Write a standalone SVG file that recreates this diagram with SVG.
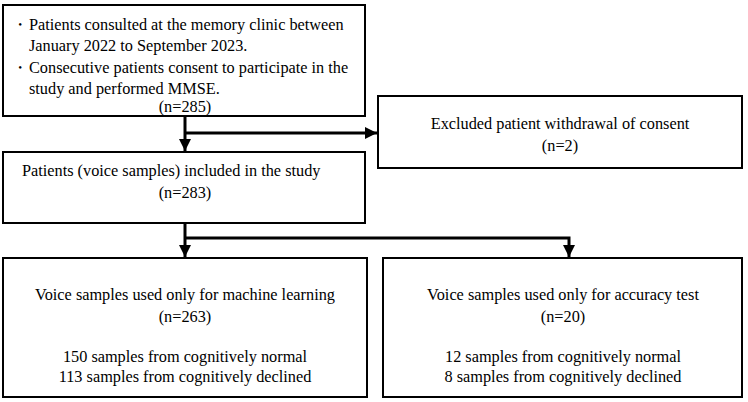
<svg xmlns="http://www.w3.org/2000/svg" width="748" height="402" viewBox="0 0 748 402">
<defs>
<style>
.box{fill:#fff;stroke:#000;stroke-width:2}
.t{font-family:"Liberation Serif","Times New Roman",serif;font-size:16.3px;fill:#000}
.c{text-anchor:middle}
.ln{fill:none;stroke:#000;stroke-width:3}
</style>
<marker id="ah" viewBox="0 0 12 12" refX="12" refY="6" markerWidth="12" markerHeight="12" markerUnits="userSpaceOnUse" orient="auto">
<path d="M0,0 L12,6 L0,12 Z" fill="#000"/>
</marker>
</defs>
<rect width="748" height="402" fill="#fff"/>
<g id="node-consulted">
<rect class="box" x="3" y="5" width="362" height="111"/>
<text class="t" x="12" y="30">・</text>
<text class="t" x="29" y="30">Patients consulted at the memory clinic between</text>
<text class="t" x="29" y="51">January 2022 to September 2023.</text>
<text class="t" x="12" y="73">・</text>
<text class="t" x="29" y="73">Consecutive patients consent to participate in the</text>
<text class="t" x="29" y="94">study and performed MMSE.</text>
<text class="t c" x="185" y="112">(n=285)</text>
</g>
<g id="node-excluded">
<rect class="box" x="378" y="96" width="364" height="72"/>
<text class="t c" x="560" y="129">Excluded patient withdrawal of consent</text>
<text class="t c" x="560" y="151">(n=2)</text>
</g>
<g id="node-included">
<rect class="box" x="3" y="152" width="362" height="71"/>
<text class="t" x="22" y="176">Patients (voice samples) included in the study</text>
<text class="t c" x="185" y="198">(n=283)</text>
</g>
<g id="node-ml">
<rect class="box" x="3" y="258" width="364" height="139"/>
<text class="t c" x="185" y="300">Voice samples used only for machine learning</text>
<text class="t c" x="185" y="322">(n=263)</text>
<text class="t c" x="185" y="362">150 samples from cognitively normal</text>
<text class="t c" x="185" y="382">113 samples from cognitively declined</text>
</g>
<g id="node-accuracy">
<rect class="box" x="383" y="258" width="359" height="139"/>
<text class="t c" x="563" y="300">Voice samples used only for accuracy test</text>
<text class="t c" x="563" y="322">(n=20)</text>
<text class="t c" x="563" y="362">12 samples from cognitively normal</text>
<text class="t c" x="563" y="382">8 samples from cognitively declined</text>
</g>
<g id="connectors">
<path class="ln" d="M185,117 V151" marker-end="url(#ah)"/>
<path class="ln" d="M185,133 H377" marker-end="url(#ah)"/>
<path class="ln" d="M185,224 V257" marker-end="url(#ah)"/>
<path class="ln" d="M185,238 H569 V257" marker-end="url(#ah)"/>
</g>
</svg>
